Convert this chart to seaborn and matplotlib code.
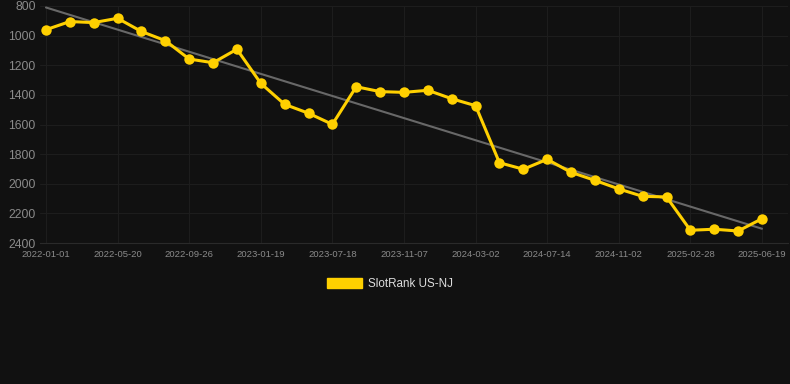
import numpy as np
import pandas as pd
import matplotlib
matplotlib.use("Agg")
import matplotlib.pyplot as plt
import matplotlib.patches as mpatches
import seaborn as sns

# Θέσεις κατάταξης (SlotRank US-NJ) ανά μέτρηση
rank_values = [960, 905, 912, 883, 972, 1034, 1158, 1183, 1092, 1322,
               1464, 1524, 1599, 1345, 1378, 1383, 1369, 1426, 1473, 1858,
               1902, 1835, 1923, 1977, 2035, 2085, 2089, 2314, 2307, 2319,
               2236]
tick_labels = ["2022-01-01", "2022-05-20", "2022-09-26", "2023-01-19",
               "2023-07-18", "2023-11-07", "2024-03-02", "2024-07-14",
               "2024-11-02", "2025-02-28", "2025-06-19"]
y_ticks = [800, 1000, 1200, 1400, 1600, 1800, 2000, 2200, 2400]
series_name = "SlotRank US-NJ"

df = pd.DataFrame({"idx": np.arange(len(rank_values)), "rank": rank_values})

# Γραμμή τάσης (γραμμική παλινδρόμηση)
coef = np.polyfit(df["idx"], df["rank"], 1)
df["trend"] = np.polyval(coef, df["idx"])

sns.set_theme(style="dark")
plt.rcParams["font.family"] = ["Liberation Sans", "DejaVu Sans"]

bg = "#111111"
gold = "#FFD000"

fig = plt.figure(figsize=(7.9, 3.84), dpi=100, facecolor=bg)
ax = fig.add_axes([40 / 790, 1 - 243 / 384, 748 / 790, 237 / 384])
ax.set_facecolor(bg)

sns.lineplot(data=df, x="idx", y="trend", ax=ax, color="#686868",
             linewidth=1.5, zorder=2)
sns.lineplot(data=df, x="idx", y="rank", ax=ax, color=gold, linewidth=2.2,
             marker="o", markersize=7.5, markeredgewidth=0, zorder=3)

ax.set_ylim(2400, 800)
ax.set_xlim(-0.25, 31.09)
ax.set_yticks(y_ticks)
ax.set_yticklabels([str(v) for v in y_ticks])
tick_pos = list(range(0, len(rank_values), 3))
ax.set_xticks(tick_pos)
ax.set_xticklabels(tick_labels)
ax.tick_params(axis="y", colors="#8a8a8a", labelsize=8.8, length=0, pad=3)
ax.tick_params(axis="x", colors="#8a8a8a", labelsize=6.8, length=0, pad=5)
ax.set_xlabel("")
ax.set_ylabel("")

ax.grid(True, color="#1d1d1d", linewidth=0.8)
for s in ["top", "right", "left"]:
    ax.spines[s].set_visible(False)
ax.spines["bottom"].set_color("#2a2a2a")
ax.spines["bottom"].set_linewidth(0.8)

handle = mpatches.Patch(facecolor=gold, edgecolor=gold, label=series_name)
fig.legend(handles=[handle], loc="center", bbox_to_anchor=(390 / 790, 1 - 284 / 384),
           frameon=False, fontsize=8.4, labelcolor="#dddddd",
           handlelength=3.0, handleheight=0.9, handletextpad=0.5)

fig.savefig("out.png", dpi=100, facecolor=bg)
